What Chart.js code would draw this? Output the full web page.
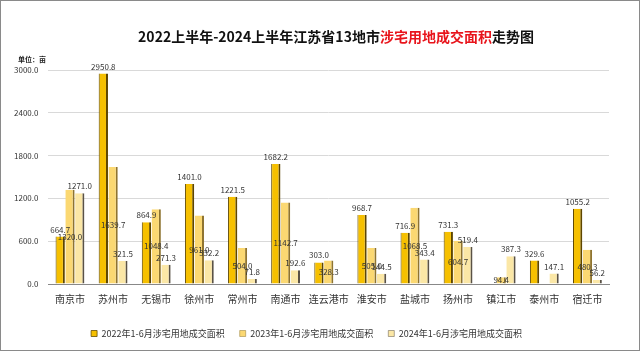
<!DOCTYPE html>
<html><head><meta charset="utf-8">
<script src="https://cdn.jsdelivr.net/npm/chart.js@4/dist/chart.umd.min.js"></script>
<style>
html,body{margin:0;padding:0;background:#fff;}
#wrap{position:relative;width:638px;height:349px;border:1px solid #8a8a8a;}
</style></head>
<body><div id="wrap"><canvas id="c" width="638" height="349"></canvas></div>
<script>
const categories = ['南京市','苏州市','无锡市','徐州市','常州市','南通市','连云港市','淮安市','盐城市','扬州市','镇江市','泰州市','宿迁市'];
const seriesNames = ['2022年1-6月涉宅用地成交面积','2023年1-6月涉宅用地成交面积','2024年1-6月涉宅用地成交面积'];
const values2022 = [664.7,2950.8,864.9,1401.0,1221.5,1682.2,303.0,968.7,716.9,731.3,null,329.6,1055.2];
const values2023 = [1320.0,1639.7,1048.4,961.0,504.0,1142.7,328.3,505.0,1068.5,604.7,94.4,null,480.3];
const values2024 = [1271.0,321.5,271.3,332.2,71.8,192.6,null,144.5,343.4,519.4,387.3,147.1,56.2];
const yTicks = [0,600,1200,1800,2400,3000];

const FONT = '"Noto Sans CJK SC","Noto Sans",sans-serif';

const titlePlugin = {
  id:'titlePlugin',
  afterDraw(chart){
    const ctx = chart.ctx;
    ctx.save();
    ctx.font = 'bold 14px ' + FONT;
    ctx.textBaseline = 'middle';
    const parts = [['2022上半年-2024上半年江苏省13地市','#111'],['涉宅用地成交面积','#e8141b'],['走势图','#111']];
    let total = 0;
    parts.forEach(p=>{ total += ctx.measureText(p[0]).width; });
    let x = 335 - total/2;
    parts.forEach(p=>{ ctx.fillStyle = p[1]; ctx.textAlign='left'; ctx.fillText(p[0], x, 36); x += ctx.measureText(p[0]).width; });
    ctx.font = 'bold 7px ' + FONT;
    ctx.fillStyle = '#222';
    ctx.fillText('单位：亩', 17, 58);
    ctx.restore();
  }
};

const labelPlugin = {
  id:'labelPlugin',
  afterDatasetsDraw(chart){
    const ctx = chart.ctx;
    ctx.save();
    ctx.font = '8px ' + FONT;
    ctx.fillStyle = '#333';
    ctx.textAlign = 'center';
    chart.data.datasets.forEach((ds, di)=>{
      const meta = chart.getDatasetMeta(di);
      meta.data.forEach((bar, i)=>{
        const v = ds.data[i];
        if (v === null || v === undefined) return;
        const txt = v.toFixed(1);
        if (di === 1) {
          ctx.textBaseline = 'middle';
          ctx.fillText(txt, bar.x, (bar.y + bar.base)/2);
        } else {
          ctx.textBaseline = 'bottom';
          ctx.fillText(txt, bar.x, bar.y - 3);
        }
      });
    });
    ctx.restore();
  }
};

new Chart(document.getElementById('c'), {
  type:'bar',
  data:{
    labels: categories,
    datasets:[
      {label:seriesNames[0], data:values2022, backgroundColor:'#f6c000', borderColor:'#5e4600', borderWidth:{left:1,right:2,top:0,bottom:0}, borderSkipped:false},
      {label:seriesNames[1], data:values2023, backgroundColor:'#fbd872', borderColor:'#8f7430', borderWidth:{left:0,right:2,top:0,bottom:0}, borderSkipped:false},
      {label:seriesNames[2], data:values2024, backgroundColor:'#fbe7a6', borderColor:'#5a5246', borderWidth:{left:0,right:2,top:0,bottom:0}, borderSkipped:false}
    ]
  },
  options:{
    responsive:false,
    animation:false,
    layout:{padding:{top:69,left:3,right:30,bottom:2}},
    datasets:{bar:{categoryPercentage:0.68,barPercentage:0.95}},
    plugins:{
      legend:{position:'bottom',labels:{boxWidth:6,boxHeight:6,font:{size:9,family:FONT},color:'#333',padding:15}},
      title:{display:false},
      tooltip:{enabled:false}
    },
    scales:{
      x:{grid:{display:false,drawTicks:false},border:{color:'#888'},ticks:{font:{size:10,family:FONT},color:'#333',padding:9,maxRotation:0,autoSkip:false}},
      y:{min:0,max:3000,afterBuildTicks(ax){ax.ticks = yTicks.map(v=>({value:v}));},
         grid:{color:'#d9d9d9',drawTicks:false},border:{display:false},
         ticks:{font:{size:8,family:FONT},color:'#333',padding:10,callback:v=>Number(v).toFixed(1)}}
    }
  },
  plugins:[titlePlugin,labelPlugin]
});
</script></body></html>
